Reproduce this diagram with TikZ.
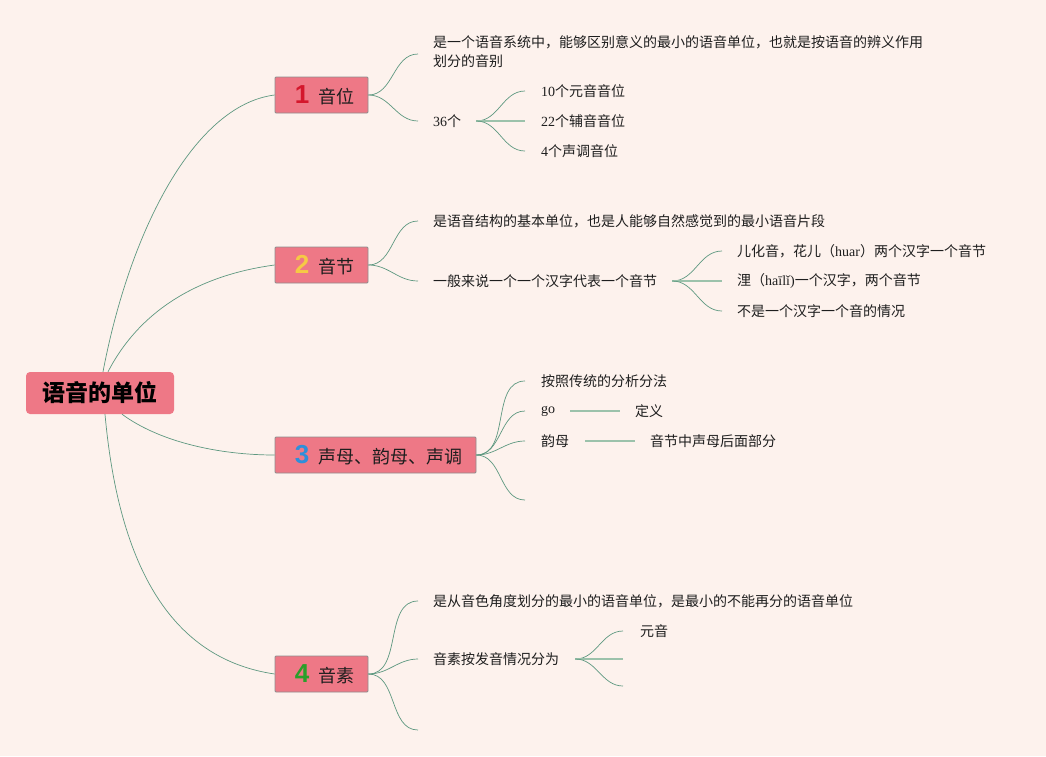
\documentclass[tikz,border=0pt]{standalone}
\usepackage{fontspec}
\setmainfont{Noto Sans CJK SC}
\newfontfamily\lat{Liberation Serif}
\newfontfamily\numf{Liberation Sans}
\definecolor{bgc}{HTML}{FDF2ED}
\definecolor{boxc}{HTML}{EE7886}
\definecolor{bordc}{HTML}{8E8E8E}
\definecolor{txt}{HTML}{1E1E1E}
\definecolor{linkc}{HTML}{5E9880}
\definecolor{linkl}{HTML}{9CC2AB}
\definecolor{n1}{HTML}{D4172C}
\definecolor{n2}{HTML}{F6C945}
\definecolor{n3}{HTML}{2E8FDA}
\definecolor{n4}{HTML}{2A9F2A}
\newcommand\tnum[2]{\hspace{6pt}{\numf\bfseries\fontsize{26}{26}\selectfont\color{#1}#2}\hspace{9pt}}
\begin{document}
\begin{tikzpicture}[x=1pt,y=-1pt,
  lnk/.style={draw=linkc, line width=0.7pt},
  lnkh/.style={draw=linkl, line width=1.4pt},
  leaf/.style={anchor=west, inner sep=0pt, font=\fontsize{14}{19}\selectfont, text=txt},
  topic/.style={draw=bordc, fill=boxc, line width=0.8pt, minimum height=36pt, inner sep=0pt,
    font=\fontsize{18}{22}\selectfont, text=txt, rounded corners=1pt},
  rootbox/.style={fill=boxc, rounded corners=4pt, minimum width=148pt, minimum height=42pt,
    inner sep=0pt, font=\fontsize{23}{26}\selectfont\bfseries, text=black}]
\fill[bgc] (0,0) rectangle (1046,756);
\useasboundingbox (0,0) rectangle (1046,756);

% root and topics
\node[rootbox] (root) at (100,393) {语音的单位};
\node[topic, minimum width=93pt] (t1) at (321.5,95) {\tnum{n1}{1}音位};
\node[topic, minimum width=93pt] (t2) at (321.5,265) {\tnum{n2}{2}音节};
\node[topic, minimum width=201pt] (t3) at (375.5,455) {\tnum{n3}{3}声母、韵母、声调};
\node[topic, minimum width=93pt] (t4) at (321.5,674) {\tnum{n4}{4}音素};

\draw[lnk] ([xshift=3pt]root.north) .. controls +(27,-142) and +(-80,10) .. (t1.west);
\draw[lnk] ([xshift=8pt]root.north) .. controls +(32,-62) and +(-75,10) .. (t2.west);
\draw[lnk] ([xshift=22pt]root.south) .. controls +(38,28) and +(-55,0) .. (t3.west);
\draw[lnk] ([xshift=5pt]root.south) .. controls +(15,166) and +(-95,-14) .. (t4.west);

% branch 1
\node[leaf, align=left] (a1) at (433,52) {是一个语音系统中，能够区别意义的最小的语音单位，也就是按语音的辨义作用\\划分的音别};
\node[leaf] (a2) at (433,121) {{\lat 36}个};
\node[leaf] (a21) at (541,91) {{\lat 10}个元音音位};
\node[leaf] (a22) at (541,121) {{\lat 22}个辅音音位};
\node[leaf] (a23) at (541,151) {{\lat 4}个声调音位};
\draw[lnk] (t1.east) to[out=0,in=180] ([xshift=-15pt,yshift=-2pt]a1.west);
\draw[lnk] (t1.east) to[out=0,in=180] ([xshift=-15pt]a2.west);
\draw[lnk] ([xshift=15pt]a2.east) to[out=0,in=180] ([xshift=-16pt]a21.west);
\draw[lnkh] ([xshift=15pt]a2.east) -- ([xshift=-16pt]a22.west);
\draw[lnk] ([xshift=15pt]a2.east) to[out=0,in=180] ([xshift=-16pt]a23.west);

% branch 2
\node[leaf] (b1) at (433,221) {是语音结构的基本单位，也是人能够自然感觉到的最小语音片段};
\node[leaf] (b2) at (433,281) {一般来说一个一个汉字代表一个音节};
\node[leaf] (b21) at (737,251) {儿化音，花儿（{\lat huar}）两个汉字一个音节};
\node[leaf] (b22) at (737,281) {浬（{\lat haīlǐ)}一个汉字，两个音节};
\node[leaf] (b23) at (737,311) {不是一个汉字一个音的情况};
\draw[lnk] (t2.east) to[out=0,in=180] ([xshift=-15pt]b1.west);
\draw[lnk] (t2.east) to[out=0,in=180] ([xshift=-15pt]b2.west);
\draw[lnk] ([xshift=15pt]b2.east) to[out=0,in=180] ([xshift=-15pt]b21.west);
\draw[lnkh] ([xshift=15pt]b2.east) -- ([xshift=-15pt]b22.west);
\draw[lnk] ([xshift=15pt]b2.east) to[out=0,in=180] ([xshift=-15pt]b23.west);

% branch 3
\node[leaf] (c1) at (541,381) {按照传统的分析分法};
\node[leaf] (c2) at (541,411) {{\lat go}};
\node[leaf] (c21) at (635,411) {定义};
\node[leaf] (c3) at (541,441) {韵母};
\node[leaf] (c31) at (650,441) {音节中声母后面部分};
\coordinate (c4) at (525,500);
\draw[lnk] (t3.east) to[out=0,in=180] ([xshift=-16pt]c1.west);
\draw[lnk] (t3.east) to[out=0,in=180] ([xshift=-16pt]c2.west);
\draw[lnk] (t3.east) to[out=0,in=180] ([xshift=-16pt]c3.west);
\draw[lnk] (t3.east) to[out=0,in=180] (c4);
\draw[lnkh] ([xshift=15pt]c2.east) -- ([xshift=-15pt]c21.west);
\draw[lnkh] ([xshift=16pt]c3.east) -- ([xshift=-15pt]c31.west);

% branch 4
\node[leaf] (d1) at (433,601) {是从音色角度划分的最小的语音单位，是最小的不能再分的语音单位};
\node[leaf] (d2) at (433,659) {音素按发音情况分为};
\coordinate (d3) at (418,730);
\node[leaf] (d21) at (640,631) {元音};
\coordinate (d22) at (623,659);
\coordinate (d23) at (623,686);
\draw[lnk] (t4.east) to[out=0,in=180] ([xshift=-15pt]d1.west);
\draw[lnk] (t4.east) to[out=0,in=180] ([xshift=-15pt]d2.west);
\draw[lnk] (t4.east) to[out=0,in=180] (d3);
\draw[lnk] ([xshift=16pt]d2.east) to[out=0,in=180] ([xshift=-17pt]d21.west);
\draw[lnkh] ([xshift=16pt]d2.east) -- (d22);
\draw[lnk] ([xshift=16pt]d2.east) to[out=0,in=180] (d23);
\end{tikzpicture}
\end{document}
